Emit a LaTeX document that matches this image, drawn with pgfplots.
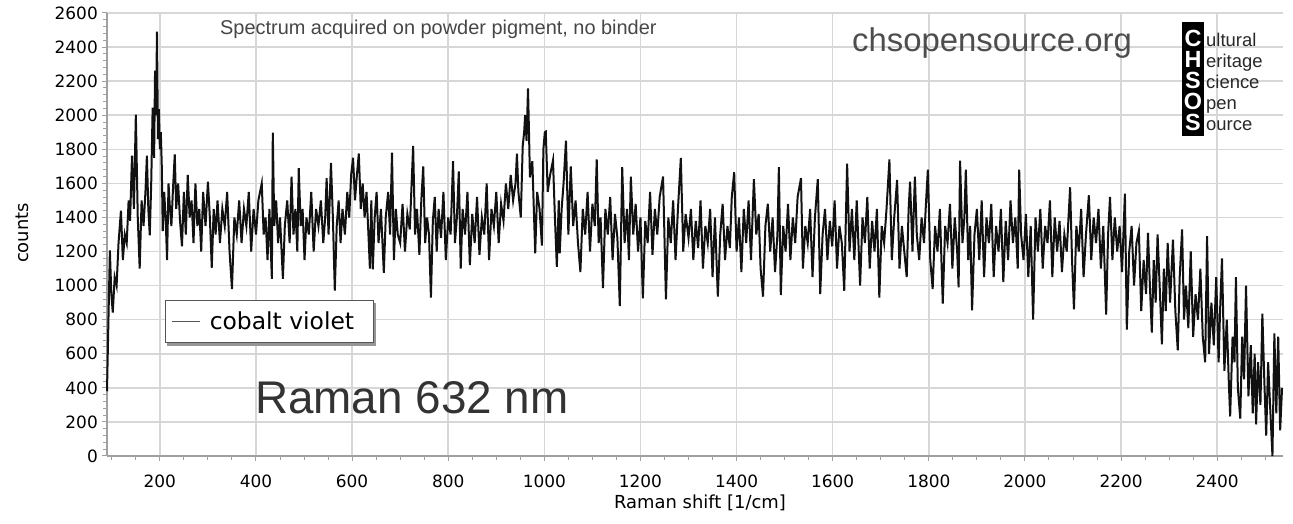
\documentclass[border=0pt]{standalone}
\usepackage{fontspec}
\setmainfont{DejaVu Sans}
\newfontfamily\arial{Liberation Sans}
\usepackage{pgfplots}
\pgfplotsset{compat=1.18}
\definecolor{gridc}{RGB}{215,215,215}
\definecolor{axc}{RGB}{160,160,160}
\definecolor{legc}{RGB}{85,85,85}
\definecolor{shc}{RGB}{150,150,150}
\definecolor{txa}{RGB}{70,70,70}
\definecolor{txb}{RGB}{77,77,77}
\definecolor{txc}{RGB}{51,51,51}
\definecolor{txd}{RGB}{40,40,40}
\definecolor{linec}{RGB}{17,17,17}
\begin{document}
\begin{tikzpicture}[x=1bp,y=1bp]
\useasboundingbox (0,0) rectangle (1293,524);
\begin{axis}[
 at={(107bp,68bp)}, anchor=south west, scale only axis, width=1176bp, height=443bp,
 xmin=90, xmax=2537, ymin=0, ymax=2600,
 axis x line*=bottom, axis y line*=left,
 axis line style={-, draw=axc, line width=1.5bp},
 xtick={0,200,...,2600}, ytick={0,200,...,2600},
 minor x tick num=3, minor y tick num=4,
 tick align=outside, major tick length=5bp, minor tick length=4bp,
 every tick/.style={draw=axc, line width=1bp},
 grid=major, major grid style={draw=gridc, line width=1.5bp},
 ticklabel style={font=\fontsize{17}{20}\selectfont},
 /pgf/number format/assume math mode=true,
 /pgf/number format/1000 sep={},
 yticklabel style={anchor=east, inner sep=0pt, xshift=-4bp},
 xticklabel style={anchor=north, inner sep=0pt, yshift=-14bp},
 legend style={name=leg, at={(0.0493,0.352)}, anchor=north west, draw=legc, line width=1bp,
   fill=white, inner xsep=6bp, inner ysep=9.5bp, column sep=7bp,
   font=\fontsize{23.5}{27}\selectfont},
 legend cell align=left,
 legend image code/.code={\draw[line width=1.3bp, draw=legc] (0bp,0bp) -- (28bp,0bp);},
 clip=false,
]
\addplot[linec, line width=2bp] coordinates {
(90,380)(93,800)(96,1206)(99,950)(102,842)(106,1050)(110,1000)(114,1250)(119,1440)(123,1150)
(127,1300)(131,1250)(135,1500)(138,1380)(142,1763)(146,1450)(150,2004)(154,1400)(158,1100)(162,1500)
(166,1350)(170,1550)(173,1763)(176,1450)(179,1295)(182,1600)(185,2045)(188,1750)(190,2262)(192,2000)
(194,2490)(196,1860)(198,2035)(200,1800)(202,1900)(204,1700)(206,1320)(209,1550)(212,1400)(215,1150)
(218,1600)(221,1450)(224,1350)(227,1550)(231,1770)(234,1450)(238,1600)(242,1380)(246,1230)(250,1550)
(254,1300)(258,1650)(262,1400)(266,1500)(270,1250)(274,1600)(278,1350)(282,1450)(286,1200)(290,1550)
(295,1350)(300,1610)(304,1400)(308,1105)(312,1450)(316,1300)(320,1500)(325,1250)(330,1450)(335,1350)
(340,1550)(345,1200)(350,980)(355,1400)(360,1300)(365,1500)(370,1250)(375,1450)(380,1350)(385,1550)
(390,1200)(395,1450)(400,1300)(405,1500)(412,1600)(416,1300)(420,1400)(424,1150)(428,1450)(433,1040)
(435,1898)(438,1350)(442,1500)(446,1250)(450,1400)(456,1040)(460,1350)(465,1500)(470,1250)(474,1640)
(478,1300)(482,1450)(486,1200)(489,1690)(493,1350)(497,1450)(501,1150)(505,1400)(510,1300)(515,1550)
(520,1200)(525,1450)(530,1350)(535,1500)(540,1250)(544,1400)(547,1630)(551,1300)(556,1720)(560,1400)
(564,970)(568,1350)(572,1500)(576,1250)(580,1450)(585,1300)(590,1550)(594,1400)(598,1650)(602,1750)
(606,1500)(610,1650)(614,1775)(618,1450)(622,1600)(626,1400)(630,1550)(634,1300)(637,1100)(640,1500)
(643,1095)(647,1400)(651,1550)(655,1250)(660,1450)(666,1075)(670,1400)(675,1550)(679,1300)(683,1780)
(687,1150)(691,1450)(695,1300)(700,1250)(705,1480)(710,1200)(715,1420)(720,1330)(727,1820)(731,1300)
(735,1450)(740,1180)(744,1500)(748,1700)(752,1250)(756,1400)(760,1300)(764,930)(768,1380)(772,1520)
(776,1200)(780,1450)(785,1280)(790,1550)(795,1150)(800,1400)(805,1300)(810,1730)(814,1250)(818,1400)
(822,1670)(826,1100)(830,1450)(835,1300)(840,1550)(845,1120)(850,1420)(855,1250)(860,1520)(865,1180)
(870,1400)(875,1300)(880,1600)(885,1150)(890,1450)(895,1350)(900,1550)(905,1250)(910,1480)(915,1380)
(920,1600)(925,1450)(930,1650)(935,1500)(940,1600)(943,1775)(946,1550)(951,1400)(955,1820)(958,1900)
(960,2000)(963,1850)(966,2157)(968,1910)(970,1635)(975,1730)(981,1190)(985,1550)(990,1450)(995,1235)
(998,1800)(1001,1900)(1003,1904)(1007,1550)(1012,1650)(1018,1735)(1022,1400)(1026,1110)(1030,1500)(1032,1190)
(1036,1450)(1040,1600)(1045,1850)(1050,1300)(1055,1700)(1060,1350)(1065,1500)(1070,1250)(1075,1080)(1080,1450)
(1085,1300)(1090,1550)(1095,1200)(1100,1480)(1105,1350)(1109,1740)(1113,1250)(1117,1400)(1122,985)(1127,1450)
(1132,1300)(1137,1520)(1142,1150)(1147,1420)(1152,1280)(1157,880)(1162,1695)(1167,1250)(1172,1450)(1176,1150)
(1180,1640)(1185,1300)(1190,1480)(1195,1200)(1200,1400)(1205,925)(1210,1380)(1215,1250)(1220,1550)(1225,1180)
(1230,1450)(1235,1300)(1240,1520)(1247,1640)(1253,920)(1258,1400)(1263,1250)(1268,1500)(1273,1150)(1278,1450)
(1284,1750)(1289,1200)(1294,1420)(1300,1280)(1305,1450)(1310,1150)(1315,1380)(1320,1220)(1325,1500)(1330,1100)
(1335,1350)(1340,1250)(1345,1450)(1350,1050)(1355,1400)(1361,935)(1366,1300)(1371,1480)(1376,1150)(1381,1350)
(1386,1220)(1390,1520)(1395,1665)(1400,1200)(1405,1400)(1410,1080)(1415,1450)(1420,1250)(1425,1500)(1430,1150)
(1436,1625)(1441,1300)(1446,1420)(1450,1100)(1455,935)(1460,1350)(1465,1480)(1470,1200)(1475,1400)(1480,1080)
(1485,1300)(1488,1695)(1492,945)(1497,1350)(1502,1200)(1507,1480)(1512,1150)(1517,1400)(1522,1250)(1527,1520)
(1534,1630)(1538,1100)(1543,1350)(1548,1250)(1553,1450)(1558,1050)(1563,1400)(1569,1625)(1574,950)(1579,1300)
(1584,1450)(1589,1150)(1594,1380)(1599,1230)(1604,1500)(1609,1100)(1614,1350)(1619,1250)(1624,970)(1630,1716)
(1635,1200)(1640,1450)(1645,1150)(1650,1500)(1657,1000)(1662,1400)(1667,1250)(1672,1520)(1677,1100)(1682,1380)
(1687,1200)(1692,1450)(1697,930)(1702,1350)(1707,1250)(1712,1450)(1718,1740)(1723,1150)(1728,1400)(1734,1620)
(1739,1100)(1744,1350)(1749,1200)(1754,1050)(1758,1450)(1761,1610)(1766,1200)(1771,1640)(1775,1300)(1780,1150)
(1785,1400)(1790,1250)(1794,1480)(1798,1680)(1803,1150)(1808,980)(1813,1350)(1818,1200)(1823,1450)(1829,895)
(1834,1350)(1839,1250)(1844,1480)(1849,1100)(1854,1400)(1859,1200)(1862,990)(1865,1733)(1870,1250)(1874,1400)
(1877,1680)(1882,1150)(1886,1350)(1890,855)(1895,1300)(1900,1450)(1905,1150)(1910,1500)(1915,1050)(1920,1400)
(1925,1250)(1930,1480)(1935,1050)(1940,1350)(1945,1200)(1950,1450)(1955,1020)(1960,1380)(1965,1150)(1970,1500)
(1975,1250)(1980,1400)(1985,1100)(1988,1680)(1992,1300)(1997,1150)(2002,1420)(2007,1050)(2012,1350)(2017,800)
(2022,1400)(2027,1200)(2032,1450)(2037,1100)(2042,1350)(2047,1250)(2052,1500)(2057,1050)(2062,1400)(2067,1200)
(2072,1380)(2077,1080)(2082,1300)(2087,1200)(2094,1577)(2098,1150)(2102,860)(2107,1350)(2112,1200)(2117,1450)
(2122,1050)(2127,1300)(2133,1530)(2138,1150)(2143,1400)(2148,1250)(2153,1450)(2158,1100)(2163,1350)(2169,830)
(2173,1300)(2177,1520)(2182,1150)(2187,1400)(2192,1200)(2197,1350)(2202,1080)(2208,1540)(2212,742)(2217,1200)
(2222,1350)(2227,1000)(2232,1250)(2237,1320)(2242,850)(2247,1150)(2252,950)(2256,1310)(2260,1000)(2264,724)
(2268,1150)(2272,900)(2276,1300)(2281,950)(2285,655)(2289,1100)(2293,850)(2297,1250)(2302,900)(2308,1270)
(2313,850)(2318,620)(2322,1050)(2327,1330)(2331,800)(2335,1000)(2340,750)(2345,1200)(2350,700)(2355,950)
(2360,800)(2365,1100)(2370,700)(2375,550)(2379,1290)(2383,600)(2388,900)(2393,650)(2398,1050)(2403,550)
(2406,850)(2410,1160)(2415,500)(2420,800)(2424,450)(2427,232)(2432,700)(2436,550)(2439,1050)(2443,400)
(2448,220)(2452,700)(2456,450)(2460,1000)(2465,350)(2470,650)(2474,250)(2478,600)(2481,185)(2485,550)
(2490,300)(2494,835)(2498,450)(2502,120)(2506,550)(2510,300)(2515,0)(2519,720)(2523,250)(2527,700)
(2531,150)(2535,400)
};
\addlegendentry{cobalt violet\rule{11bp}{0pt}}
\end{axis}
\fill[shc] ([shift={(0bp,-2.5bp)}]leg.south east) rectangle ([shift={(2.5bp,-2.5bp)}]leg.north east);
\fill[shc] ([shift={(2.5bp,-2.5bp)}]leg.south west) rectangle ([shift={(0bp,0bp)}]leg.south east);
\node[anchor=base west, inner sep=0pt, font=\arial\fontsize{20}{24}\selectfont, text=txa] at (220,489) {Spectrum acquired on powder pigment, no binder};
\node[anchor=base west, inner sep=0pt, font=\arial\fontsize{33}{38}\selectfont, text=txb] at (852,472) {chsopensource.org};
\node[anchor=base west, inner sep=0pt, font=\arial\fontsize{46}{52}\selectfont, text=txc] at (255,110) {Raman 632 nm};
\node[anchor=center, inner sep=0pt, font=\fontsize{18}{22}\selectfont] at (700,21) {Raman shift [1/cm]};
\node[anchor=center, inner sep=0pt, rotate=90, font=\fontsize{18}{22}\selectfont] at (22,291) {counts};
\fill[black] (1182,388) rectangle (1204,502);
\foreach \l/\y in {C/477,H/456,S/435,O/414,S/393}{
  \node[anchor=base, inner sep=0pt, text=white, font=\arial\bfseries\fontsize{23.5}{25}\selectfont] at (1193,\y) {\l};
}
\foreach \w/\y in {ultural/477,eritage/456,cience/435,pen/414,ource/393}{
  \node[anchor=base west, inner sep=0pt, text=txd, font=\arial\fontsize{18.5}{20}\selectfont] at (1206,\y) {\w};
}
\end{tikzpicture}
\end{document}
